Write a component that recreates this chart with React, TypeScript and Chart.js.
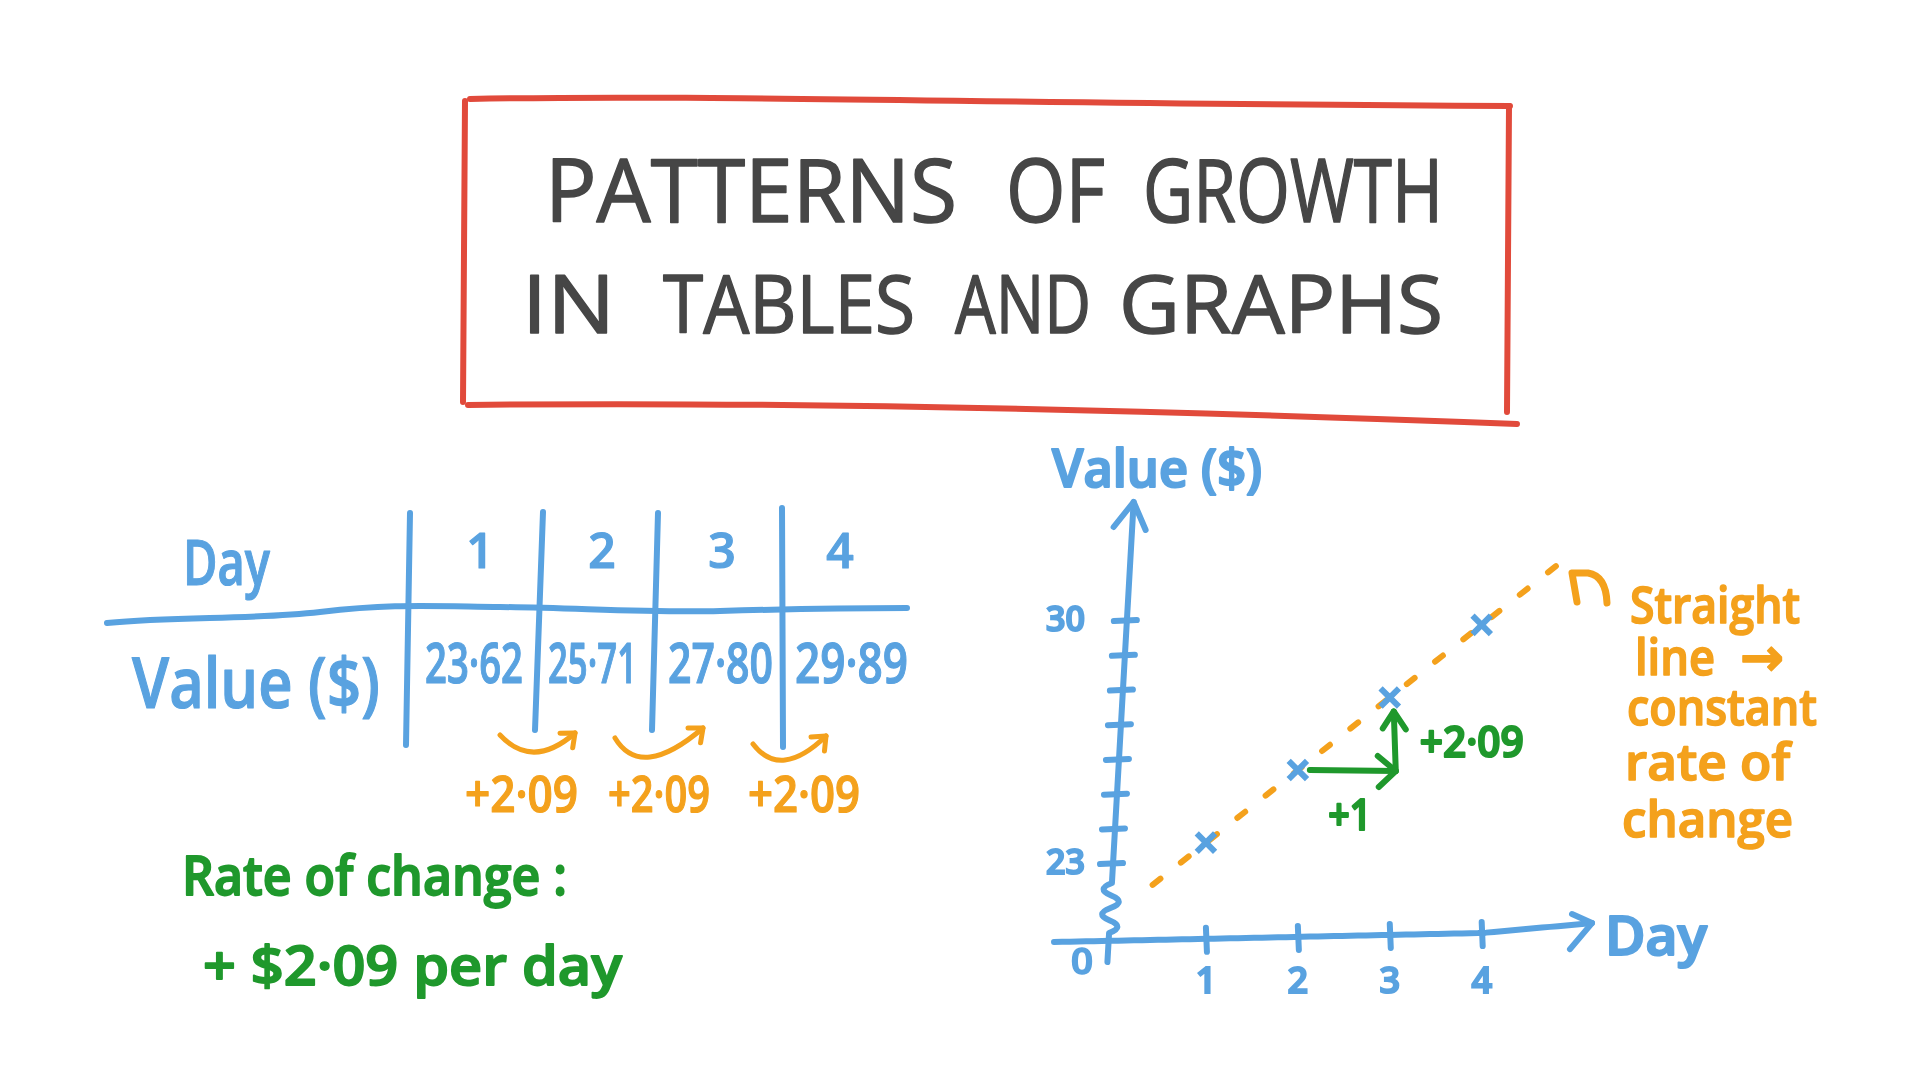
import React, { useEffect, useRef } from "react";
import { Chart, registerables } from "chart.js";

Chart.register(...registerables);

// ---------------- data ----------------
const days = [1, 2, 3, 4];
const values = [23.62, 25.71, 27.8, 29.89];
const changeLabels = ["+2·09", "+2·09", "+2·09"];
const xTickValues = [1, 2, 3, 4];
const yTickValues = [23, 24, 25, 26, 27, 28, 29, 30];
const yTickLabelled = [23, 30];
const trendX = [0.42, 4.85];
const trendY = [22.4, 31.67];
const stepRunLabel = "+1";
const stepRiseLabel = "+2·09";
const titleLine1 = ["PATTERNS", "OF", "GROWTH"];
const titleLine2 = ["IN", "TABLES", "AND", "GRAPHS"];
const noteLines = ["Straight", "line", "constant", "rate of", "change"];
const noteArrow = "→";
const rateLines = ["Rate of change :", "+ $2·09 per day"];

// ---------------- styles / layout ----------------
const BLUE = "#59a2e0";
const ORANGE = "#f4a11c";
const GREEN = "#1f982c";
const GRAY = "#464646";
const RED = "#e14a3b";
const HAND = "'Open Sans', 'Liberation Sans', sans-serif";
const ARROW_FONT = "'DejaVu Sans', sans-serif";

const TITLE1_POS = [[545, 412], [1006, 99], [1143, 300]];
const TITLE2_POS = [[522, 93], [663, 252], [955, 136], [1119, 324]];
const NOTE_POS = [[1630, 623, 170], [1635, 675, 80], [1627, 725, 190], [1625, 780, 165], [1622, 837, 171]];
const RATE_POS = [[182, 895, 385], [203, 985, 419]];
const HEADER_X = [480, 602, 722, 840];
const VALUE_POS = [[425, 98], [548, 89], [668, 105], [795, 113]];
const CHANGE_POS = [[465, 113], [608, 102], [748, 112]];
const CHANGE_ARROWS = [
  [[500, 735], [535, 752], [575, 733]],
  [[615, 738], [650, 757], [703, 728]],
  [[753, 744], [785, 760], [826, 736]],
];

function fmt(v: number) {
  return v.toFixed(2).replace(".", "·");
}

function headPath(tx: number, ty: number, fx: number, fy: number, len = 16, ang = 0.65) {
  const th = Math.atan2(ty - fy, tx - fx);
  const ax = tx - len * Math.cos(th - ang), ay = ty - len * Math.sin(th - ang);
  const bx = tx - len * Math.cos(th + ang), by = ty - len * Math.sin(th + ang);
  return `M ${ax} ${ay} L ${tx} ${ty} L ${bx} ${by}`;
}

function fitText(ctx: CanvasRenderingContext2D, text: string, x: number, y: number, w: number, size: number, color: string, center = false, sw = 1.6) {
  ctx.save();
  ctx.font = `600 ${size}px ${HAND}`;
  ctx.fillStyle = color;
  ctx.strokeStyle = color;
  ctx.lineJoin = "round";
  ctx.textBaseline = "alphabetic";
  ctx.textAlign = "left";
  const m = ctx.measureText(text).width || 1;
  ctx.translate(center ? x - w / 2 : x, y);
  ctx.scale(w / m, 1);
  ctx.lineWidth = sw;
  ctx.fillText(text, 0, 0);
  ctx.strokeText(text, 0, 0);
  ctx.restore();
}

function seg(ctx: CanvasRenderingContext2D, pts: number[][]) {
  ctx.beginPath();
  ctx.moveTo(pts[0][0], pts[0][1]);
  for (let i = 1; i < pts.length; i++) ctx.lineTo(pts[i][0], pts[i][1]);
  ctx.stroke();
}

const handPlugin = {
  id: "handDrawn",
  beforeDatasetsDraw(chart: any) {
    const { ctx, chartArea, scales } = chart;
    const xs = scales.x, ys = scales.y;
    const x0 = xs.getPixelForValue(0);
    const yb = chartArea.bottom;
    const top = chartArea.top;
    const y23 = ys.getPixelForValue(yTickValues[0]);
    const lean = (y: number) => x0 - 1 + (y23 - y) * 0.057;
    const x4 = xs.getPixelForValue(xTickValues[xTickValues.length - 1]);
    const xl = x0 - 60;
    const xAxisY = (px: number) => {
      if (px <= x4) return yb + 5 - (px - xl) * 0.021;
      return yb + 5 - (x4 - xl) * 0.021 - (px - x4) * 0.09;
    };
    ctx.save();
    ctx.strokeStyle = BLUE;
    ctx.lineWidth = 6;
    ctx.lineCap = "round";
    ctx.lineJoin = "round";
    // x axis
    const xr = chartArea.right;
    const pts: number[][] = [];
    for (let px = xl; px < xr; px += 8) pts.push([px, xAxisY(px)]);
    pts.push([xr, xAxisY(xr)]);
    seg(ctx, pts);
    const ty = xAxisY(xr);
    seg(ctx, [[xr - 20, ty - 9], [xr, ty], [xr - 22, ty + 26]]);
    // x ticks
    xTickValues.forEach((v) => {
      const px = xs.getPixelForValue(v);
      const cy = xAxisY(px);
      seg(ctx, [[px, cy - 11], [px + 1, cy + 13]]);
    });
    // y axis with break
    const yBottom = yb + 25;
    ctx.beginPath();
    ctx.moveTo(lean(yBottom), yBottom);
    ctx.lineTo(lean(yb - 4), yb - 4);
    const sq0 = yb - 4, sq1 = yb - 54, n = 4, h = (sq0 - sq1) / n;
    for (let i = 0; i < n; i++) {
      const ya = sq0 - i * h, yc = ya - h;
      const dir = i % 2 === 0 ? 1 : -1;
      ctx.quadraticCurveTo(lean(ya - h / 2) + dir * 16, ya - h / 2, lean(yc), yc);
    }
    ctx.lineTo(lean(top), top);
    ctx.stroke();
    const tx = lean(top);
    seg(ctx, [[tx - 20, top + 25], [tx, top], [tx + 12, top + 28]]);
    // y ticks
    yTickValues.forEach((v) => {
      const py = ys.getPixelForValue(v);
      const cx = lean(py);
      seg(ctx, [[cx - 13, py], [cx + 10, py - 1]]);
    });
    ctx.restore();
    // origin label and axis titles
    fitText(ctx, "0", x0 - 32, yb + 37, 22, 36, BLUE, true);
    fitText(ctx, "Value ($)", x0 - 62, top - 15, 210, 52, BLUE, false, 2.2);
    fitText(ctx, "Day", xr + 13, yb + 18, 102, 54, BLUE, false, 2.2);
  },
  afterDatasetsDraw(chart: any) {
    const { ctx, scales } = chart;
    const xs = scales.x, ys = scales.y;
    const p2x = xs.getPixelForValue(days[1]);
    const p2y = ys.getPixelForValue(values[1]);
    const p3x = xs.getPixelForValue(days[2]);
    const p3y = ys.getPixelForValue(values[2]);
    ctx.save();
    ctx.strokeStyle = GREEN;
    ctx.lineWidth = 6;
    ctx.lineCap = "round";
    ctx.lineJoin = "round";
    const hx = p3x + 6;
    seg(ctx, [[p2x + 12, p2y], [hx, p2y + 1]]);
    seg(ctx, [[hx - 18, p2y - 14], [hx, p2y + 1], [hx - 17, p2y + 17]]);
    const vTop = p3y + 14;
    seg(ctx, [[hx, p2y + 1], [hx - 2, vTop]]);
    seg(ctx, [[hx - 13, vTop + 17], [hx - 2, vTop], [hx + 10, vTop + 18]]);
    ctx.restore();
    fitText(ctx, stepRunLabel, (p2x + hx) / 2 + 3, p2y + 60, 43, 44, GREEN, true, 2.2);
    fitText(ctx, stepRiseLabel, hx + 24, (p2y + vTop) / 2 + 16, 104, 44, GREEN, false, 2.2);
  },
};

function HandText(props: { x: number; y: number; w?: number; size: number; color: string; text: string; weight?: number; sw?: number; anchor?: string; family?: string }) {
  const { x, y, w, size, color, text, weight = 600, sw = 1.2, anchor = "start", family = HAND } = props;
  const extra: any = {};
  if (w) {
    extra.textLength = w;
    extra.lengthAdjust = "spacingAndGlyphs";
  }
  return (
    <text
      x={x}
      y={y}
      fontSize={size}
      fontFamily={family}
      fontWeight={weight}
      fill={color}
      stroke={color}
      strokeWidth={sw}
      strokeLinejoin="round"
      textAnchor={anchor}
      {...extra}
    >
      {text}
    </text>
  );
}

export default function App() {
  const canvasRef = useRef<HTMLCanvasElement | null>(null);

  useEffect(() => {
    document.body.style.margin = "0";
    document.body.style.overflow = "hidden";
    const canvas = canvasRef.current;
    if (!canvas) return;
    const chart = new Chart(canvas, {
      type: "scatter",
      data: {
        datasets: [
          {
            label: "Value ($)",
            data: days.map((d, i) => ({ x: d, y: values[i] })),
            pointStyle: "crossRot",
            pointRadius: 13,
            pointHoverRadius: 13,
            pointBorderWidth: 6,
            borderColor: BLUE,
            backgroundColor: BLUE,
            showLine: false,
            order: 0,
          } as any,
          {
            label: "Trend",
            data: trendX.map((x, i) => ({ x, y: trendY[i] })),
            showLine: true,
            borderColor: ORANGE,
            backgroundColor: ORANGE,
            borderWidth: 6,
            borderDash: [10, 26],
            borderCapStyle: "round",
            pointRadius: 0,
            order: 1,
          } as any,
        ],
      },
      options: {
        responsive: false,
        animation: false,
        devicePixelRatio: 1,
        layout: { padding: { left: 1034, right: 328, top: 502, bottom: 73 } },
        plugins: { legend: { display: false }, tooltip: { enabled: false } },
        scales: {
          x: {
            type: "linear",
            min: 0,
            max: 5.2,
            afterBuildTicks: (scale: any) => {
              scale.ticks = xTickValues.map((v) => ({ value: v }));
            },
            afterFit: (scale: any) => {
              scale.height = 70;
            },
            grid: { display: false, drawTicks: false },
            border: { display: false },
            ticks: {
              autoSkip: false,
              color: BLUE,
              padding: 24,
              textStrokeColor: BLUE,
              textStrokeWidth: 2,
              font: { family: HAND, size: 36, weight: "600" },
              callback: (v: any) => String(v),
            },
          },
          y: {
            type: "linear",
            min: 20.9,
            max: 33.43,
            afterBuildTicks: (scale: any) => {
              scale.ticks = yTickValues.map((v) => ({ value: v }));
            },
            afterFit: (scale: any) => {
              scale.width = 80;
            },
            grid: { display: false, drawTicks: false },
            border: { display: false },
            ticks: {
              autoSkip: false,
              color: BLUE,
              padding: 29,
              textStrokeColor: BLUE,
              textStrokeWidth: 2,
              font: { family: HAND, size: 34, weight: "600" },
              callback: (v: any) => (yTickLabelled.includes(Number(v)) ? String(v) : ""),
            },
          },
        },
      } as any,
      plugins: [handPlugin as any],
    });
    return () => chart.destroy();
  }, []);

  return (
    <div style={{ position: "absolute", left: 0, top: 0, width: 1920, height: 1080, background: "#ffffff", overflow: "hidden" }}>
      <canvas ref={canvasRef} width={1920} height={1080} style={{ position: "absolute", left: 0, top: 0, width: 1920, height: 1080 }} />
      <svg width={1920} height={1080} style={{ position: "absolute", left: 0, top: 0, pointerEvents: "none" }}>
        {/* title box */}
        <g stroke={RED} strokeWidth={6} fill="none" strokeLinecap="round">
          <path d="M 470 99 C 700 94, 1000 104, 1510 106" />
          <path d="M 1509 106 L 1507 412" />
          <path d="M 468 405 C 800 401, 1200 412, 1517 424" />
          <path d="M 465 101 L 463 402" />
        </g>
        {titleLine1.map((t, i) => (
          <HandText key={"t1" + i} x={TITLE1_POS[i][0]} y={222} w={TITLE1_POS[i][1]} size={88} color={GRAY} text={t} weight={400} sw={1.5} />
        ))}
        {titleLine2.map((t, i) => (
          <HandText key={"t2" + i} x={TITLE2_POS[i][0]} y={333} w={TITLE2_POS[i][1]} size={80} color={GRAY} text={t} weight={400} sw={1.5} />
        ))}

        {/* table */}
        <g stroke={BLUE} strokeWidth={6} fill="none" strokeLinecap="round">
          <path d="M 107 623 C 180 616, 250 620, 320 612 S 420 606, 500 607 S 650 613, 720 611 S 850 608, 907 608" />
          <path d="M 410 513 L 406 745" />
          <path d="M 543 512 L 535 730" />
          <path d="M 658 513 L 652 730" />
          <path d="M 782 508 L 783 747" />
        </g>
        <HandText x={183} y={585} w={87} size={64} color={BLUE} text="Day" />
        <HandText x={132} y={708} w={248} size={70} color={BLUE} text="Value ($)" />
        {days.map((d, i) => (
          <HandText key={"h" + i} x={HEADER_X[i]} y={568} size={48} color={BLUE} text={String(d)} anchor="middle" />
        ))}
        {values.map((v, i) => (
          <HandText key={"v" + i} x={VALUE_POS[i][0]} y={683} w={VALUE_POS[i][1]} size={56} color={BLUE} text={fmt(v)} />
        ))}
        {CHANGE_ARROWS.map((a, i) => {
          const [s, m, e] = a;
          const cx = 2 * m[0] - (s[0] + e[0]) / 2;
          const cy = 2 * m[1] - (s[1] + e[1]) / 2;
          return (
            <g key={"ca" + i} stroke={ORANGE} strokeWidth={5} fill="none" strokeLinecap="round" strokeLinejoin="round">
              <path d={`M ${s[0]} ${s[1]} Q ${cx} ${cy} ${e[0]} ${e[1]}`} />
              <path d={headPath(e[0], e[1], cx, cy, 15, 0.7)} />
            </g>
          );
        })}
        {changeLabels.map((t, i) => (
          <HandText key={"c" + i} x={CHANGE_POS[i][0]} y={812} w={CHANGE_POS[i][1]} size={50} color={ORANGE} text={t} />
        ))}

        {/* rate of change */}
        {rateLines.map((t, i) => (
          <HandText key={"r" + i} x={RATE_POS[i][0]} y={RATE_POS[i][1]} w={RATE_POS[i][2]} size={54} color={GREEN} text={t} sw={1.8} />
        ))}

        {/* annotation arrow and note */}
        <path d="M 1577 602 L 1572 573 L 1588 573 Q 1606 576 1607 603" stroke={ORANGE} strokeWidth={7} fill="none" strokeLinecap="round" strokeLinejoin="round" />
        {noteLines.map((t, i) => (
          <HandText key={"n" + i} x={NOTE_POS[i][0]} y={NOTE_POS[i][1]} w={NOTE_POS[i][2]} size={50} color={ORANGE} text={t} sw={1.6} />
        ))}
        <HandText x={1740} y={675} w={44} size={52} color={ORANGE} text={noteArrow} family={ARROW_FONT} weight={700} sw={1.5} />
      </svg>
    </div>
  );
}
